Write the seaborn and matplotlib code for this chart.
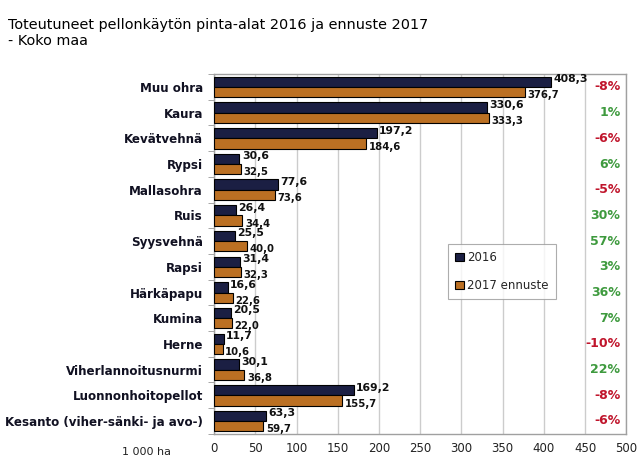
import numpy as np
import pandas as pd
import seaborn as sns
import matplotlib
import matplotlib.pyplot as plt

matplotlib.use('Agg')

# data
crops = ['Muu ohra', 'Kaura', 'Kevätvehnä', 'Rypsi', 'Mallasohra', 'Ruis',
         'Syysvehnä', 'Rapsi', 'Härkäpapu', 'Kumina', 'Herne',
         'Viherlannoitusnurmi', 'Luonnonhoitopellot',
         'Kesanto (viher-sänki- ja avo-)']
ala_2016 = [408.3, 330.6, 197.2, 30.6, 77.6, 26.4, 25.5, 31.4, 16.6, 20.5, 11.7, 30.1, 169.2, 63.3]
ala_2017 = [376.7, 333.3, 184.6, 32.5, 73.6, 34.4, 40.0, 32.3, 22.6, 22.0, 10.6, 36.8, 155.7, 59.7]
muutos = ['-8%', '1%', '-6%', '6%', '-5%', '30%', '57%', '3%', '36%', '7%', '-10%', '22%', '-8%', '-6%']
sarjat = ['2016', '2017 ennuste']

df = pd.DataFrame({
    'kasvi': crops * 2,
    'ala': ala_2016 + ala_2017,
    'sarja': [sarjat[0]] * len(crops) + [sarjat[1]] * len(crops),
})

sns.set_style('white')
plt.rcParams['font.family'] = ['DejaVu Sans']

fig = plt.figure(figsize=(6.41, 4.63), dpi=100)
ax = fig.add_axes([0.334, 0.063, 0.643, 0.777])

ax.grid(axis='x', color='#cccccc', linewidth=1, zorder=0)
ax.set_axisbelow(True)

sns.barplot(data=df, y='kasvi', x='ala', hue='sarja', orient='h',
            palette=['#141a4a', '#d4700a'], edgecolor='black', linewidth=0.8,
            width=0.8, ax=ax, zorder=3)

# value labels next to the bars
for cont, fs, dy in zip(ax.containers, [7.8, 7.3], [-0.1, 0.12]):
    for bar in cont:
        w = bar.get_width()
        yc = bar.get_y() + bar.get_height() / 2
        ax.text(w + 3, yc + dy, ('%.1f' % w).replace('.', ','), fontsize=fs,
                fontweight='bold', color='#111111', va='center', ha='left', zorder=5)

# change column
for i, m in enumerate(muutos):
    col = '#c0152c' if m.startswith('-') else '#3e9a3e'
    ax.text(493, i, m, fontsize=9, fontweight='bold', color=col,
            ha='right', va='center', zorder=5)

ax.set_xlim(0, 500)
ax.set_ylim(len(crops) - 0.5, -0.5)
ax.set_xticks(np.arange(0, 501, 50))
ax.tick_params(axis='x', labelsize=8.5, colors='#222222', length=0, pad=6)
ax.set_yticks(np.arange(len(crops)))
ax.set_yticklabels(crops, fontsize=8.6, fontweight='bold', color='#111122')
ax.set_yticks(np.arange(len(crops) + 1) - 0.5, minor=True)
ax.tick_params(axis='y', which='major', length=0, pad=8)
ax.tick_params(axis='y', which='minor', length=4, color='#999999', left=True)
ax.set_xlabel('')
ax.set_ylabel('')

for s in ['left', 'bottom', 'top', 'right']:
    ax.spines[s].set_color('#a0a0a0')
    ax.spines[s].set_linewidth(1)

leg = ax.legend(loc='upper left', bbox_to_anchor=(0.568, 0.528), fontsize=8.5,
                frameon=True, fancybox=False, edgecolor='#999999',
                handlelength=0.7, handleheight=0.7, handletextpad=0.3,
                labelspacing=1.3, borderpad=0.6, borderaxespad=0, title=None)
leg.get_frame().set_linewidth(0.8)

fig.text(0.012, 0.962, 'Toteutuneet pellonkäytön pinta-alat 2016 ja ennuste 2017\n- Koko maa',
         fontsize=10.4, ha='left', va='top', linespacing=1.25, color='black')
fig.text(0.19, 0.024, '1 000 ha', fontsize=8, ha='left', va='center', color='#222222')

fig.savefig('out.png', dpi=100)
